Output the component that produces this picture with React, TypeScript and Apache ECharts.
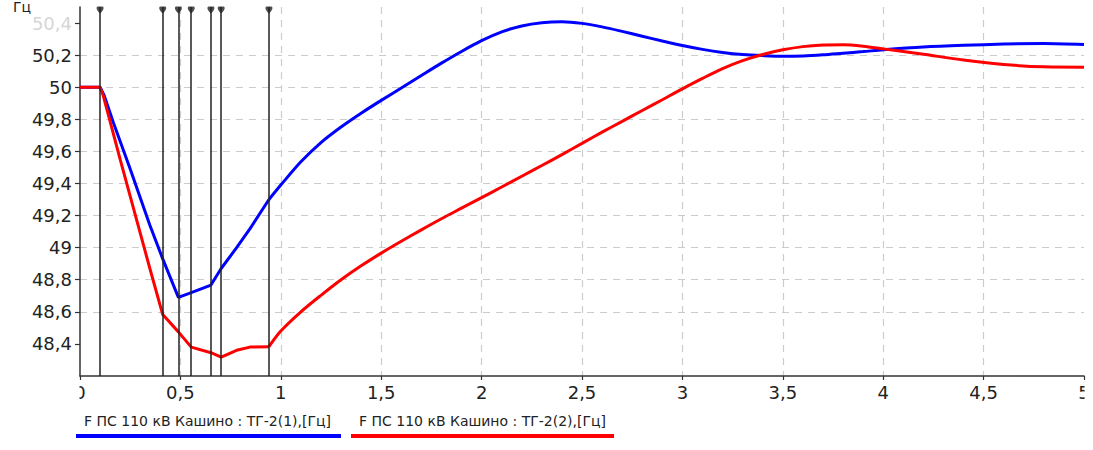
import React, { useEffect, useRef } from "react";
import * as echarts from "echarts";

// ---- data ----
const seriesNames = [
  "F ПС 110 кВ Кашино : ТГ-2(1),[Гц]",
  "F ПС 110 кВ Кашино : ТГ-2(2),[Гц]",
];

// event markers (s)
const eventTimes = [0.1, 0.412, 0.49, 0.554, 0.652, 0.703, 0.941];

// early (piecewise) part
const blueEarlyT = [0, 0.1, 0.12, 0.166, 0.25, 0.348, 0.412, 0.49, 0.554, 0.652, 0.703, 0.78, 0.846, 0.941];
const blueEarlyV = [50.0, 50.0, 49.95, 49.78, 49.49, 49.14, 48.93, 48.69, 48.72, 48.767, 48.87, 49.0, 49.117, 49.3];

const redEarlyT = [0, 0.1, 0.115, 0.2, 0.3, 0.348, 0.412, 0.49, 0.554, 0.652, 0.703, 0.78, 0.846, 0.941];
const redEarlyV = [50.0, 50.0, 49.95, 49.55, 49.09, 48.87, 48.583, 48.475, 48.38, 48.345, 48.318, 48.36, 48.38, 48.383];

// later (smooth) part
const lateT = [0.941, 1.0, 1.1, 1.2, 1.3, 1.4, 1.5, 1.6, 1.7, 1.8, 1.9, 2.0, 2.1, 2.2, 2.3, 2.4, 2.5, 2.6, 2.7, 2.8, 2.9, 3.0, 3.1, 3.2, 3.3, 3.4, 3.5, 3.6, 3.7, 3.8, 3.9, 4.0, 4.2, 4.4, 4.6, 4.8, 5.0];
const blueLateV = [49.3, 49.39, 49.535, 49.655, 49.752, 49.838, 49.918, 49.995, 50.073, 50.15, 50.223, 50.29, 50.345, 50.382, 50.402, 50.408, 50.398, 50.376, 50.348, 50.318, 50.288, 50.26, 50.236, 50.217, 50.204, 50.197, 50.193, 50.195, 50.202, 50.212, 50.222, 50.233, 50.25, 50.261, 50.269, 50.272, 50.266];
const redLateV = [48.383, 48.48, 48.6, 48.703, 48.8, 48.887, 48.966, 49.04, 49.111, 49.18, 49.246, 49.312, 49.378, 49.445, 49.512, 49.58, 49.65, 49.72, 49.787, 49.855, 49.922, 49.99, 50.055, 50.116, 50.166, 50.204, 50.233, 50.253, 50.263, 50.265, 50.256, 50.239, 50.205, 50.17, 50.142, 50.127, 50.125];

// axes
const xMin = 0;
const xMax = 5;
const xStep = 0.5;
const yMin = 48.2;
const yMax = 50.5;
const yStep = 0.2;
const yTicks = [48.4, 48.6, 48.8, 49, 49.2, 49.4, 49.6, 49.8, 50, 50.2, 50.4];
const yUnit = "Гц";

const BLUE = "#0000ff";
const RED = "#ff0000";
const FONT = "DejaVu Sans";

const zip = (t: number[], v: number[]) => t.map((x, i) => [x, v[i]]);
const fmt = (v: number) => (Math.round(v * 10) / 10).toString().replace(".", ",");

export default function App() {
  const ref = useRef<HTMLDivElement>(null);

  useEffect(() => {
    document.body.style.margin = "0";
    if (!ref.current) return;
    const chart = echarts.init(ref.current, null, { renderer: "svg" });

    const lineCommon = {
      type: "line",
      showSymbol: false,
      symbol: "none",
      silent: true,
    };

    chart.setOption({
      animation: false,
      textStyle: { fontFamily: FONT },
      grid: { left: 80, right: 9, top: 7, bottom: 74, containLabel: false },
      legend: {
        left: 66,
        top: 409,
        orient: "horizontal",
        data: seriesNames,
        icon: "rect",
        itemWidth: 0,
        itemHeight: 0,
        itemGap: 5,
        selectedMode: false,
        formatter: (name: string) =>
          `{t|${name}}\n{${name === seriesNames[0] ? "b0" : "b1"}|}`,
        textStyle: {
          rich: {
            t: {
              fontFamily: FONT,
              fontSize: 14,
              color: "#222",
              lineHeight: 26,
              padding: [0, 0, 0, 8],
            },
            b0: { backgroundColor: BLUE, width: 265, height: 4, lineHeight: 4 },
            b1: { backgroundColor: RED, width: 263, height: 4, lineHeight: 4 },
          },
        },
      },
      xAxis: {
        type: "value",
        min: xMin,
        max: xMax,
        interval: xStep,
        axisLine: { show: true, onZero: false, lineStyle: { color: "#333", width: 1.5 } },
        axisTick: { show: true, length: 4, lineStyle: { color: "#333", width: 1.2 } },
        axisLabel: {
          fontSize: 18,
          color: "#222",
          margin: 7,
          fontFamily: FONT,
          formatter: (v: number) => fmt(v),
        },
        splitLine: {
          show: true,
          showMinLine: false,
          showMaxLine: false,
          lineStyle: { color: "#cccccc", width: 1.2, type: [7, 6] },
        },
      },
      yAxis: {
        type: "value",
        min: yMin,
        max: yMax,
        interval: yStep,
        name: yUnit,
        nameLocation: "end",
        nameGap: -2,
        nameTextStyle: {
          fontSize: 14,
          color: "#222",
          fontFamily: FONT,
          align: "right",
          verticalAlign: "top",
          padding: [0, 49, 0, 0],
        },
        axisLine: { show: true, onZero: false, lineStyle: { color: "#333", width: 1.5 } },
        axisTick: {
          show: true,
          length: 5,
          customValues: yTicks,
          lineStyle: { color: "#333", width: 1.2 },
        },
        axisLabel: {
          fontSize: 18,
          margin: 8,
          fontFamily: FONT,
          customValues: yTicks,
          color: (v: any) => (parseFloat(v) > 50.35 ? "#d6d6d6" : "#222"),
          formatter: (v: number) =>
            v < yTicks[0] - 1e-6 || v > yTicks[yTicks.length - 1] + 1e-6 ? "" : fmt(v),
        },
        splitLine: {
          show: true,
          showMinLine: false,
          showMaxLine: false,
          lineStyle: { color: "#cccccc", width: 1.2, type: [7, 6] },
        },
      },
      series: [
        {
          ...lineCommon,
          name: seriesNames[0],
          data: zip(blueEarlyT, blueEarlyV),
          smooth: false,
          lineStyle: { color: BLUE, width: 3 },
          itemStyle: { color: BLUE },
          z: 2,
        },
        {
          ...lineCommon,
          name: seriesNames[0],
          data: zip(lateT, blueLateV),
          smooth: 0.3,
          lineStyle: { color: BLUE, width: 3 },
          itemStyle: { color: BLUE },
          z: 2,
        },
        {
          ...lineCommon,
          name: seriesNames[1],
          data: zip(redEarlyT, redEarlyV),
          smooth: false,
          lineStyle: { color: RED, width: 3 },
          itemStyle: { color: RED },
          z: 3,
        },
        {
          ...lineCommon,
          name: seriesNames[1],
          data: zip(lateT, redLateV),
          smooth: 0.3,
          lineStyle: { color: RED, width: 3 },
          itemStyle: { color: RED },
          z: 3,
        },
        {
          type: "scatter",
          name: "events",
          silent: true,
          clip: false,
          z: 5,
          data: eventTimes.map((t) => [t, yMax]),
          symbol: "path://M0,2 Q0,0 2,0 L8,0 Q10,0 10,2 Q10,5 5,10 Q0,5 0,2 Z",
          symbolSize: [7, 7],
          symbolOffset: [0, 3],
          itemStyle: { color: "#222" },
          markLine: {
            silent: true,
            symbol: ["none", "none"],
            label: { show: false },
            lineStyle: { color: "#222", width: 1.5, type: "solid" },
            data: eventTimes.map((t) => ({ xAxis: t })),
          },
        },
      ],
      graphic: [
        // the reference clips the first and last x-axis labels at the plot edges
        { type: "rect", z: 100, shape: { x: 58, y: 381, width: 21.5, height: 22 }, style: { fill: "#fff" } },
        { type: "rect", z: 100, shape: { x: 1084.5, y: 381, width: 10, height: 22 }, style: { fill: "#fff" } },
      ],
    });

    return () => chart.dispose();
  }, []);

  return <div ref={ref} style={{ width: 1093, height: 450 }} />;
}
